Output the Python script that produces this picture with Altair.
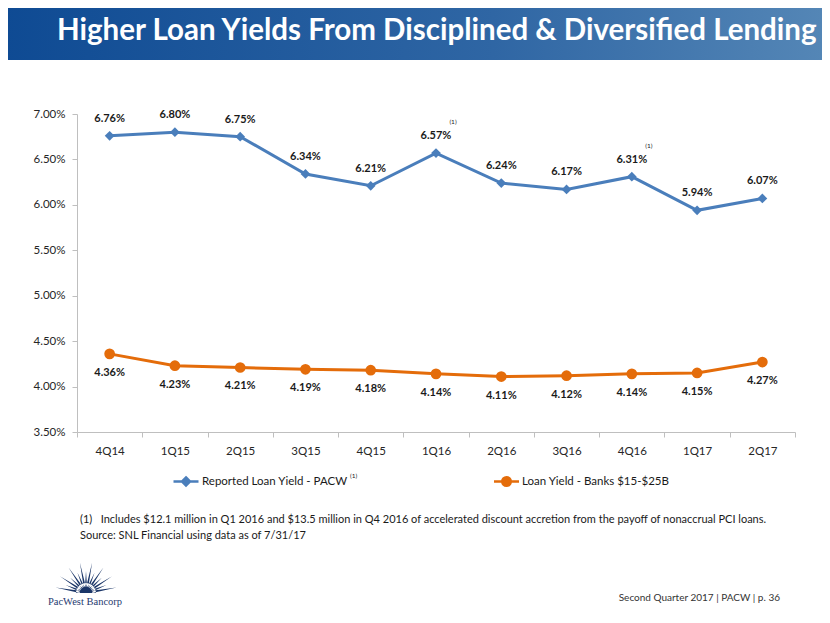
import math
import altair as alt
import pandas as pd

# ---------------- data ----------------
quarters = ["4Q14", "1Q15", "2Q15", "3Q15", "4Q15", "1Q16", "2Q16", "3Q16", "4Q16", "1Q17", "2Q17"]
pacw = [6.76, 6.80, 6.75, 6.34, 6.21, 6.57, 6.24, 6.17, 6.31, 5.94, 6.07]
banks = [4.36, 4.23, 4.21, 4.19, 4.18, 4.14, 4.11, 4.12, 4.14, 4.15, 4.27]
pacw_notes = ["", "", "", "", "", "(1)", "", "", "(1)", "", ""]
y_ticks = [3.5, 4.0, 4.5, 5.0, 5.5, 6.0, 6.5, 7.0]

S1 = "Reported Loan Yield - PACW"
S2 = "Loan Yield - Banks $15-$25B"
TITLE = "Higher Loan Yields From Disciplined & Diversified Lending"
FOOT1 = "(1)\u00a0\u00a0\u00a0Includes $12.1 million in Q1 2016 and $13.5 million in Q4 2016 of accelerated discount accretion from the payoff of nonaccrual PCI loans."
FOOT2 = "Source: SNL Financial using data as of 7/31/17"
FOOTER = "Second Quarter 2017 | PACW | p. 36"
LOGO = "PacWest Bancorp"

BLUE = "#4a7ebb"
ORANGE = "#e46c0a"
FONT = "Lato"
AXIS_GRAY = "#bfbfbf"

df_p = pd.DataFrame({"q": quarters, "v": pacw, "note": pacw_notes, "series": S1})
df_p["lbl"] = df_p["v"].map(lambda v: f"{v:.2f}%")
df_b = pd.DataFrame({"q": quarters, "v": banks, "series": S2})
df_b["lbl"] = df_b["v"].map(lambda v: f"{v:.2f}%")

X = alt.X(
    "q:N", sort=quarters, bandPosition=0.5,
    scale=alt.Scale(type="band", domain=quarters, paddingInner=0, paddingOuter=0),
    axis=alt.Axis(title=None, labelAngle=0, tickBand="extent", tickSize=5, tickColor=AXIS_GRAY,
                  domainColor=AXIS_GRAY, labelFont=FONT, labelFontSize=11.5, labelColor="#262626",
                  labelPadding=8, grid=False),
)
Y = alt.Y(
    "v:Q",
    scale=alt.Scale(domain=[3.5, 7.0], nice=False, zero=False),
    axis=alt.Axis(title=None, values=y_ticks, labelExpr="format(datum.value, '.2f') + '%'",
                  tickSize=5, tickColor=AXIS_GRAY, domainColor=AXIS_GRAY, labelFont=FONT,
                  labelFontSize=11.5, labelColor="#262626", labelPadding=7, grid=False),
)

diamond_sym = "M-2.5,0H2.5M0,-0.8L0.8,0L0,0.8L-0.8,0Z"
circle_sym = "M-2.5,0H2.5M-0.85,0A0.85,0.85 0 1,0 0.85,0A0.85,0.85 0 1,0 -0.85,0Z"


def legend(sym, color, lx, off):
    return alt.Legend(orient="none", legendX=lx, legendY=361, title=None, symbolType=sym,
                      symbolSize=100, symbolStrokeWidth=2.5, symbolFillColor=color,
                      symbolStrokeColor=color, labelOffset=off, labelFont=FONT,
                      labelFontSize=11.5, labelColor="#1a1a1a", padding=0)


blue_line = alt.Chart(df_p).mark_line(strokeWidth=3).encode(
    x=X, y=Y,
    color=alt.Color("series:N", scale=alt.Scale(domain=[S1], range=[BLUE]),
                    legend=legend(diamond_sym, BLUE, 102.5, 9.5)),
)
blue_pts = alt.Chart(df_p).mark_point(shape="diamond", filled=True, size=95, color=BLUE, opacity=1).encode(x=X, y=Y)
blue_lbl = alt.Chart(df_p).mark_text(dy=-17, font=FONT, fontSize=11, fontWeight="bold", color="#1a1a1a").encode(
    x=X, y=Y, text="lbl:N")
blue_note = alt.Chart(df_p).mark_text(dx=17, dy=-31, font=FONT, fontSize=6.5, color="#1a1a1a").encode(
    x=X, y=Y, text="note:N")
blue = alt.layer(blue_line, blue_pts, blue_lbl, blue_note)

orange_line = alt.Chart(df_b).mark_line(strokeWidth=3).encode(
    x=X, y=Y,
    color=alt.Color("series:N", scale=alt.Scale(domain=[S2], range=[ORANGE]),
                    legend=legend(circle_sym, ORANGE, 423, 9)),
)
orange_pts = alt.Chart(df_b).mark_point(shape="circle", filled=True, size=115, color=ORANGE, opacity=1).encode(x=X, y=Y)
orange_lbl = alt.Chart(df_b).mark_text(dy=19, font=FONT, fontSize=11, fontWeight="bold", color="#1a1a1a").encode(
    x=X, y=Y, text="lbl:N")
orange = alt.layer(orange_line, orange_pts, orange_lbl)

# ---------------- decorations ----------------
one = pd.DataFrame({"t": [TITLE]})
banner = alt.Chart(one).mark_rect(
    fill=alt.Gradient(gradient="linear", x1=0, x2=1, y1=0, y2=0,
                      stops=[alt.GradientStop(offset=0, color="#0e4a93"),
                             alt.GradientStop(offset=0.6, color="#2f66a4"),
                             alt.GradientStop(offset=1, color="#5486b6")]),
    strokeWidth=0,
).encode(x=alt.value(-77), x2=alt.value(745), y=alt.value(-114), y2=alt.value(-54))
title = alt.Chart(one).mark_text(align="left", baseline="middle", font=FONT, fontSize=29.5,
                                 fontWeight="bold", color="white").encode(
    x=alt.value(-20), y=alt.value(-83), text="t:N")

legend_note = alt.Chart(pd.DataFrame({"t": ["(1)"]})).mark_text(
    align="left", baseline="middle", font=FONT, fontSize=6.5, color="#1a1a1a").encode(
    x=alt.value(273), y=alt.value(362), text="t:N")

foot1 = alt.Chart(pd.DataFrame({"t": [FOOT1]})).mark_text(
    align="left", baseline="middle", font=FONT, fontSize=11, color="#1a1a1a").encode(
    x=alt.value(3), y=alt.value(406), text="t:N")
foot2 = alt.Chart(pd.DataFrame({"t": [FOOT2]})).mark_text(
    align="left", baseline="middle", font=FONT, fontSize=11, color="#1a1a1a").encode(
    x=alt.value(3), y=alt.value(422), text="t:N")

footer = alt.Chart(pd.DataFrame({"t": [FOOTER]})).mark_text(
    align="right", baseline="middle", font=FONT, fontSize=10, color="#333333").encode(
    x=alt.value(703), y=alt.value(484), text="t:N")

logo_text = alt.Chart(pd.DataFrame({"t": [LOGO]})).mark_text(
    align="center", baseline="middle", font="Liberation Serif", fontSize=10.5, color="#1f3a70").encode(
    x=alt.value(8), y=alt.value(487.5), text="t:N")

# starburst emblem path (style only)
parts = []
n = 15
for i in range(n):
    a = math.radians(10 + i * (160 / (n - 1)))
    L = 1.55 if i % 2 == 0 else 1.1
    w = math.radians(9.5)
    r0 = 0.32
    p1 = (r0 * math.cos(a - w), -r0 * math.sin(a - w))
    p2 = (L * math.cos(a), -L * math.sin(a))
    p3 = (r0 * math.cos(a + w), -r0 * math.sin(a + w))
    parts.append(f"M{p1[0]:.3f},{p1[1]:.3f}L{p2[0]:.3f},{p2[1]:.3f}L{p3[0]:.3f},{p3[1]:.3f}Z")
parts.append("M-0.5,0A0.5,0.5 0 0,1 0.5,0Z")
burst = "".join(parts)
logo_mark = alt.Chart(pd.DataFrame({"t": [LOGO]})).mark_point(
    shape=burst, filled=True, size=1600, color="#1b3668", opacity=1, strokeWidth=0).encode(
    x=alt.value(9), y=alt.value(479))

chart = alt.layer(
    banner, title, blue, orange, legend_note, foot1, foot2, footer, logo_text, logo_mark
).resolve_scale(color="independent").properties(
    width=718, height=318,
    padding={"left": 69, "top": 106, "right": 27, "bottom": 183},
    autosize=alt.AutoSizeParams(type="none"),
).configure(background="white", view=alt.ViewConfig(stroke=None))

chart.save("out.html", embed_options={"renderer": "svg", "actions": False})
